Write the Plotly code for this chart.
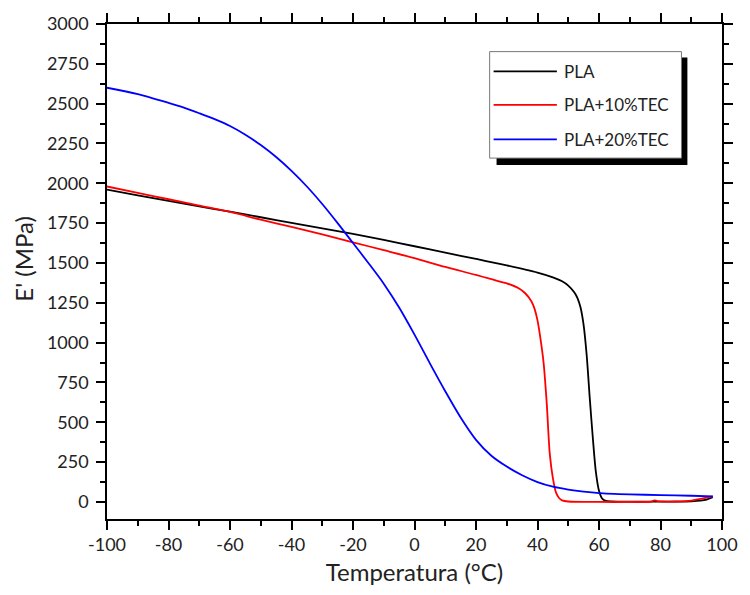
import plotly.graph_objects as go

series_names = ["PLA", "PLA+10%TEC", "PLA+20%TEC"]
series_colors = ["#000000", "#ff0000", "#0000ff"]

pla_T = [-100, -90, -80, -70, -60, -50, -40, -30, -20, -10, 0, 10, 20, 30, 40, 45, 48,
         50, 52, 53, 54, 55, 56, 57, 58, 59, 60, 61, 62, 64, 70, 80, 90, 93, 95, 97]
pla_E = [1960, 1925, 1890, 1855, 1822, 1787, 1752, 1717, 1683, 1645, 1605, 1565, 1525, 1485,
         1440, 1410, 1385, 1358, 1315, 1280, 1220, 1110, 920, 650, 400, 185, 70, 22, 8, 3, 2,
         2, 4, 8, 15, 30]

tec10_T = [-100, -90, -80, -70, -60, -50, -40, -30, -20, -10, 0, 10, 20, 25, 30, 34, 36, 38,
           39, 40, 41, 42, 43, 44, 45, 46, 47, 48, 50, 60, 70, 77, 78, 79, 85, 90, 93, 97]
tec10_E = [1980, 1940, 1900, 1860, 1820, 1772, 1726, 1680, 1630, 1580, 1530, 1475, 1425, 1398,
           1372, 1340, 1310, 1260, 1215, 1140, 1020, 870, 620, 300, 150, 60, 25, 10, 3, 0, 0,
           2, 10, 5, 3, 8, 20, 35]

tec20_T = [-100, -90, -80, -75, -70, -65, -60, -55, -50, -45, -40, -35, -30, -25, -20, -15,
           -10, -5, 0, 5, 10, 15, 20, 25, 30, 35, 40, 45, 50, 55, 60, 70, 80, 90, 97]
tec20_E = [2600, 2560, 2505, 2475, 2440, 2403, 2360, 2305, 2240, 2165, 2078, 1980, 1870,
           1750, 1625, 1500, 1370, 1220, 1050, 870, 695, 530, 390, 290, 222, 168, 125, 96, 78,
           65, 56, 48, 43, 39, 35]

x_ticks = [-100, -80, -60, -40, -20, 0, 20, 40, 60, 80, 100]
y_ticks = [0, 250, 500, 750, 1000, 1250, 1500, 1750, 2000, 2250, 2500, 2750, 3000]

x_title = "Temperatura (°C)"
y_title = "E' (MPa)"

FONT = "Lato"
TXT = "#222222"

fig = go.Figure()
for T, E, name, col in [(pla_T, pla_E, series_names[0], series_colors[0]),
                        (tec10_T, tec10_E, series_names[1], series_colors[1]),
                        (tec20_T, tec20_E, series_names[2], series_colors[2])]:
    fig.add_trace(go.Scatter(x=T, y=E, mode="lines", name=name,
                             line=dict(color=col, width=1.8, shape="spline", smoothing=0.8),
                             showlegend=False))

axis_common = dict(
    showgrid=False, zeroline=False, showline=True, linecolor="black", linewidth=1.5,
    ticks="outside", ticklen=9, tickwidth=1.5, tickcolor="black", mirror="allticks",
    tickfont=dict(family=FONT, size=18, color=TXT),
)

fig.update_xaxes(range=[-100, 100], tickvals=x_ticks, ticktext=[str(v) for v in x_ticks],
                 minor=dict(ticks="outside", ticklen=5, tickwidth=1.5, tickcolor="black", dtick=10,
                            tick0=-100),
                 title_text=x_title, title_standoff=10,
                 title_font=dict(family=FONT, size=24, color=TXT), **axis_common)
fig.update_yaxes(range=[-107, 3000], tickvals=y_ticks, ticktext=[str(v) for v in y_ticks],
                 minor=dict(ticks="outside", ticklen=5, tickwidth=1.5, tickcolor="black", dtick=125,
                            tick0=0),
                 ticklabelstandoff=4, **axis_common)

W, H = 750, 595
L, R, T_, B = 107, 21, 17, 76
pw, ph = W - L - R, H - T_ - B


def px(x):
    return (x - L) / pw


def py(y):
    return (H - B - y) / ph


shapes = []
shapes.append(dict(type="rect", xref="paper", yref="paper", x0=px(501), x1=px(694), y0=py(160), y1=py(51),
                   fillcolor="black", line=dict(width=0)))
shapes.append(dict(type="rect", xref="paper", yref="paper", x0=px(494), x1=px(688), y0=py(153), y1=py(45),
                   fillcolor="white", line=dict(color="#777777", width=1)))
annotations = []
rows = [65, 99, 134]
for name, col, ry in zip(series_names, series_colors, rows):
    shapes.append(dict(type="line", xref="paper", yref="paper", x0=px(498), x1=px(562), y0=py(ry), y1=py(ry),
                       line=dict(color=col, width=1.8)))
    annotations.append(dict(xref="paper", yref="paper", x=px(567), y=py(ry), text=name, showarrow=False,
                            xanchor="left", yanchor="middle",
                            font=dict(family=FONT, size=17, color=TXT)))

annotations.append(dict(xref="paper", yref="paper", x=px(23), y=py(255), text=y_title, showarrow=False,
                        textangle=-90, xanchor="center", yanchor="middle",
                        font=dict(family=FONT, size=24, color=TXT)))

fig.update_layout(
    width=W, height=H, margin=dict(l=L, r=R, t=T_, b=B),
    paper_bgcolor="white", plot_bgcolor="white",
    shapes=shapes, annotations=annotations, showlegend=False,
)

fig.write_html("out.html")
